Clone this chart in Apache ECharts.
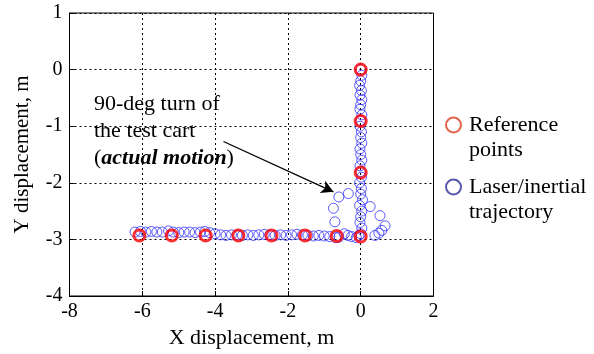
<!DOCTYPE html>
<html><head><meta charset="utf-8">
<script src="https://cdn.jsdelivr.net/npm/echarts@6/dist/echarts.min.js"></script>
<style>html,body{margin:0;padding:0;background:#fff}#c{width:594px;height:354px}</style>
</head><body><div id="c"></div>
<script>
const xTicks = [-8, -6, -4, -2, 0, 2];
const yTicks = [1, 0, -1, -2, -3, -4];
const referencePoints = [
  [0, 0], [0, -0.91], [0, -1.82], [0, -2.95],
  [-0.66, -2.94], [-1.53, -2.93], [-2.45, -2.93], [-3.36, -2.93],
  [-4.26, -2.93], [-5.19, -2.93], [-6.08, -2.93]
];
const trajectoryPoints = [
  [-6.2, -2.87], [-6.05, -2.86], [-5.9, -2.87], [-5.75, -2.86], [-5.6, -2.87],
  [-5.45, -2.87], [-5.28, -2.85], [-5.15, -2.87], [-5.0, -2.88], [-4.85, -2.87],
  [-4.7, -2.87], [-4.55, -2.88], [-4.4, -2.87], [-4.28, -2.86], [-4.15, -2.88],
  [-4.0, -2.9], [-3.85, -2.92], [-3.7, -2.93], [-3.55, -2.92], [-3.4, -2.92],
  [-3.25, -2.93], [-3.1, -2.92], [-2.95, -2.93], [-2.8, -2.92], [-2.65, -2.91],
  [-2.5, -2.92], [-2.35, -2.93], [-2.2, -2.92], [-2.05, -2.93], [-1.9, -2.92],
  [-1.75, -2.91], [-1.6, -2.92], [-1.45, -2.93], [-1.3, -2.94], [-1.15, -2.93],
  [-1.0, -2.94], [-0.85, -2.95], [-0.68, -2.97], [-0.6, -2.96], [-0.45, -2.9],
  [-0.35, -2.93], [-0.25, -2.95], [-0.12, -2.97], [-0.05, -2.93],
  [-0.71, -2.69], [-0.75, -2.45], [-0.6, -2.25], [-0.34, -2.19],
  [0.26, -2.42], [0.53, -2.58], [0.67, -2.76], [0.58, -2.84], [0.5, -2.89], [0.39, -2.93],
  [0, 0], [0.03, -0.1], [0, -0.2], [-0.03, -0.28], [0.02, -0.37], [-0.02, -0.45],
  [0.03, -0.53], [0, -0.62], [-0.02, -0.7], [0.03, -0.8], [0, -0.9], [-0.02, -1.0],
  [0.02, -1.1], [0, -1.2], [0.03, -1.3], [-0.02, -1.4], [0, -1.5], [0.03, -1.6],
  [-0.02, -1.7], [0, -1.8], [0.02, -1.9], [-0.03, -2.0], [0.02, -2.1], [0, -2.2],
  [0.05, -2.3], [-0.03, -2.4], [0.03, -2.5], [0, -2.6], [-0.02, -2.7], [0.03, -2.8], [0, -2.9]
];
const arrowStart = [-3.77, -1.27];
const arrowEnd = [-0.75, -2.16];
const seriesNames = ['Reference points', 'Laser/inertial trajectory'];
const legendLines = [['Reference', 'points'], ['Laser/inertial', 'trajectory']];

const FONT = 'Liberation Serif';
const chart = echarts.init(document.getElementById('c'));
function legendTextStyle() {
  return {
    fontFamily: FONT, fontSize: 22, color: '#000', lineHeight: 25,
    rich: {
      a: { fontFamily: FONT, fontSize: 22, color: '#000', lineHeight: 25, padding: [0, 0, 0, 3] },
      gap: { fontSize: 22, lineHeight: 25, height: 25 }
    }
  };
}
function makeLegend(i, top, color) {
  return {
    left: 445, top: top, itemWidth: 15, itemHeight: 15, itemGap: 0, padding: 0,
    data: [{ name: seriesNames[i], icon: 'circle', itemStyle: { color: 'transparent', borderColor: color, borderWidth: 2 } }],
    formatter: () => '{gap|}\n{a|' + legendLines[i][0] + '}\n{a|' + legendLines[i][1] + '}',
    textStyle: legendTextStyle()
  };
}
chart.setOption({
  animation: false,
  backgroundColor: '#fff',
  grid: { left: 69.5, right: 160.5, top: 13, bottom: 58, show: true, borderColor: '#000', borderWidth: 1, backgroundColor: 'transparent' },
  xAxis: {
    type: 'value', min: xTicks[0], max: xTicks[xTicks.length - 1], interval: 2,
    name: 'X displacement, m', nameLocation: 'middle', nameGap: 28,
    nameTextStyle: { fontFamily: FONT, fontSize: 22, color: '#000' },
    axisLine: { show: true, onZero: false, lineStyle: { color: '#000' } },
    axisTick: { show: true, inside: true, length: 5, lineStyle: { color: '#000' } },
    axisLabel: { fontFamily: FONT, fontSize: 20, color: '#000', margin: 6 },
    splitLine: { show: true, lineStyle: { color: '#000', type: [2, 3], width: 1 } }
  },
  yAxis: {
    type: 'value', min: yTicks[yTicks.length - 1], max: yTicks[0], interval: 1,
    name: 'Y displacement, m', nameLocation: 'middle', nameGap: 37, nameRotate: 90,
    nameTextStyle: { fontFamily: FONT, fontSize: 21, color: '#000' },
    axisLine: { show: true, onZero: false, lineStyle: { color: '#000' } },
    axisTick: { show: true, inside: true, length: 5, lineStyle: { color: '#000' } },
    axisLabel: { fontFamily: FONT, fontSize: 20, color: '#000', margin: 7 },
    splitLine: { show: true, lineStyle: { color: '#000', type: [2, 3], width: 1 } }
  },
  legend: [makeLegend(0, 87.5, '#d9401c'), makeLegend(1, 149.5, '#2d2d9c')],
  series: [
    {
      name: seriesNames[1], type: 'scatter', data: trajectoryPoints, symbol: 'circle', symbolSize: 10,
      itemStyle: { color: 'rgba(0,0,0,0)', borderColor: '#3333ff', borderWidth: 1 }, z: 2,
      markLine: {
        silent: true, symbol: ['none', 'arrow'], symbolSize: [10, 12],
        lineStyle: { color: '#000', width: 1.3, type: 'solid' }, label: { show: false },
        data: [[{ coord: arrowStart }, { coord: arrowEnd }]]
      }
    },
    {
      name: seriesNames[0], type: 'scatter', data: referencePoints, symbol: 'circle', symbolSize: 11,
      itemStyle: { color: 'rgba(0,0,0,0)', borderColor: '#ff0000', borderWidth: 3 }, z: 3
    }
  ],
  graphic: [{
    type: 'text', left: 94, top: 91,
    style: {
      text: '90-deg turn of\nthe test cart\n({b|actual motion})',
      font: '22px "Liberation Serif"', fill: '#000', lineHeight: 27,
      rich: { b: { fontFamily: FONT, fontSize: 22, fontWeight: 'bold', fontStyle: 'italic', lineHeight: 27 } }
    }
  }]
});
</script></body></html>
